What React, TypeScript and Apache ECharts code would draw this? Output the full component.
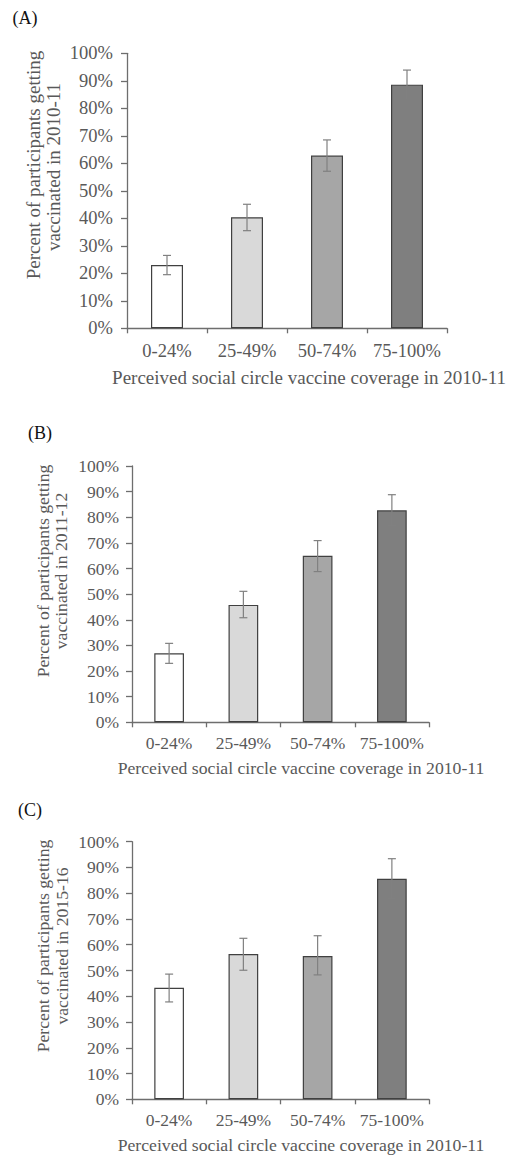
import React, { useEffect, useRef } from "react";
import * as echarts from "echarts";

const categories = ["0-24%", "25-49%", "50-74%", "75-100%"];
const yTicks = [0, 10, 20, 30, 40, 50, 60, 70, 80, 90, 100];

const valuesA = [23.0, 40.4, 62.8, 88.6];
const lowA = [19.5, 35.5, 57.1, 83.3];
const highA = [26.5, 45.1, 68.5, 93.9];

const valuesB = [26.9, 45.8, 65.0, 82.7];
const lowB = [23.0, 40.8, 58.8, 76.9];
const highB = [30.8, 51.1, 70.9, 88.8];

const valuesC = [43.3, 56.4, 55.6, 85.6];
const lowC = [37.8, 50.1, 48.3, 78.0];
const highC = [48.6, 62.5, 63.5, 93.4];

const barColors = ["#ffffff", "#d9d9d9", "#a6a6a6", "#7f7f7f"];
const panelLabels = ["(A)", "(B)", "(C)"];
const yTitleLine1 = "Percent of participants getting";
const yTitleLines2 = ["vaccinated in 2010-11", "vaccinated in 2011-12", "vaccinated in 2015-16"];
const xTitle = "Perceived social circle vaccine coverage in 2010-11";

const FONT = "'Liberation Serif', 'Times New Roman', serif";
const TEXT = "#595959";

export default function App() {
  const ref = useRef<HTMLDivElement>(null);
  useEffect(() => {
    if (!ref.current) return;
    const chart = echarts.init(ref.current, undefined, { renderer: "svg" });

    const panels = [
      { vals: valuesA, low: lowA, high: highA, grid: { left: 127, top: 53.3, width: 320, height: 275 }, fs: 18.5, tfs: 19, ym: 14, xm: 13,
        lab: { x: 25, y: 18 }, yt1: { x: 33, y: 165 }, yt2: { x: 53, y: 167 }, xt: { x: 309, y: 377 } },
      { vals: valuesB, low: lowB, high: highB, grid: { left: 132, top: 466, width: 297, height: 256.3 }, fs: 17.5, tfs: 17.7, ym: 13, xm: 12,
        lab: { x: 40, y: 433 }, yt1: { x: 43, y: 571 }, yt2: { x: 61, y: 571 }, xt: { x: 301, y: 768 } },
      { vals: valuesC, low: lowC, high: highC, grid: { left: 132, top: 841.7, width: 297, height: 257.6 }, fs: 17.5, tfs: 17.7, ym: 13, xm: 12,
        lab: { x: 30, y: 810 }, yt1: { x: 43, y: 946 }, yt2: { x: 62, y: 946 }, xt: { x: 301, y: 1145 } },
    ];

    const grids: any[] = [];
    const xAxes: any[] = [];
    const yAxes: any[] = [];
    const series: any[] = [];
    const graphics: any[] = [];

    panels.forEach((p, i) => {
      grids.push({ ...p.grid, containLabel: false });
      xAxes.push({
        type: "category",
        gridIndex: i,
        data: categories,
        boundaryGap: true,
        axisLine: { show: true, lineStyle: { color: "#6e6e6e", width: 1.3 } },
        axisTick: { show: true, alignWithLabel: false, length: 5, lineStyle: { color: "#6e6e6e", width: 1.3 } },
        axisLabel: { color: TEXT, fontFamily: FONT, fontSize: p.fs, margin: p.xm, interval: 0 },
        splitLine: { show: false },
      });
      yAxes.push({
        type: "value",
        gridIndex: i,
        min: yTicks[0],
        max: yTicks[yTicks.length - 1],
        interval: yTicks[1] - yTicks[0],
        axisLine: { show: true, lineStyle: { color: "#6e6e6e", width: 1.3 } },
        axisTick: { show: true, length: 6, lineStyle: { color: "#6e6e6e", width: 1.3 } },
        axisLabel: { color: TEXT, fontFamily: FONT, fontSize: p.fs, margin: p.ym, formatter: "{value}%" },
        splitLine: { show: false },
      });
      series.push({
        type: "bar",
        xAxisIndex: i,
        yAxisIndex: i,
        barWidth: "40%",
        data: p.vals.map((v, k) => ({
          value: v,
          itemStyle: { color: barColors[k], borderColor: "#404040", borderWidth: 1.2 },
        })),
      });
      series.push({
        type: "custom",
        xAxisIndex: i,
        yAxisIndex: i,
        z: 5,
        data: p.low.map((l, k) => [k, l, p.high[k]]),
        renderItem: (params: any, api: any) => {
          const c = api.value(0);
          const lo = api.coord([c, api.value(1)]);
          const hi = api.coord([c, api.value(2)]);
          const hw = 4;
          const st = { stroke: "#808080", lineWidth: 1.2 };
          return {
            type: "group",
            children: [
              { type: "line", shape: { x1: lo[0], y1: lo[1], x2: hi[0], y2: hi[1] }, style: st },
              { type: "line", shape: { x1: hi[0] - hw, y1: hi[1], x2: hi[0] + hw, y2: hi[1] }, style: st },
              { type: "line", shape: { x1: lo[0] - hw, y1: lo[1], x2: lo[0] + hw, y2: lo[1] }, style: st },
            ],
          };
        },
      });

      graphics.push({
        type: "text",
        x: p.lab.x,
        y: p.lab.y,
        style: { text: panelLabels[i], font: `18px ${FONT}`, fill: "#111", textAlign: "center", textVerticalAlign: "middle" },
      });
      graphics.push({
        type: "text",
        x: p.yt1.x,
        y: p.yt1.y,
        rotation: Math.PI / 2,
        style: { text: yTitleLine1, font: `${p.tfs}px ${FONT}`, fill: TEXT, textAlign: "center", textVerticalAlign: "middle" },
      });
      graphics.push({
        type: "text",
        x: p.yt2.x,
        y: p.yt2.y,
        rotation: Math.PI / 2,
        style: { text: yTitleLines2[i], font: `${p.tfs}px ${FONT}`, fill: TEXT, textAlign: "center", textVerticalAlign: "middle" },
      });
      graphics.push({
        type: "text",
        x: p.xt.x,
        y: p.xt.y,
        style: { text: xTitle, font: `${p.tfs}px ${FONT}`, fill: TEXT, textAlign: "center", textVerticalAlign: "middle" },
      });
    });

    chart.setOption({
      animation: false,
      backgroundColor: "#ffffff",
      grid: grids,
      xAxis: xAxes,
      yAxis: yAxes,
      series,
      graphic: graphics,
    });
    return () => chart.dispose();
  }, []);

  return (
    <div
      ref={ref}
      style={{ position: "absolute", left: 0, top: 0, width: 509, height: 1155, background: "#fff" }}
    />
  );
}
